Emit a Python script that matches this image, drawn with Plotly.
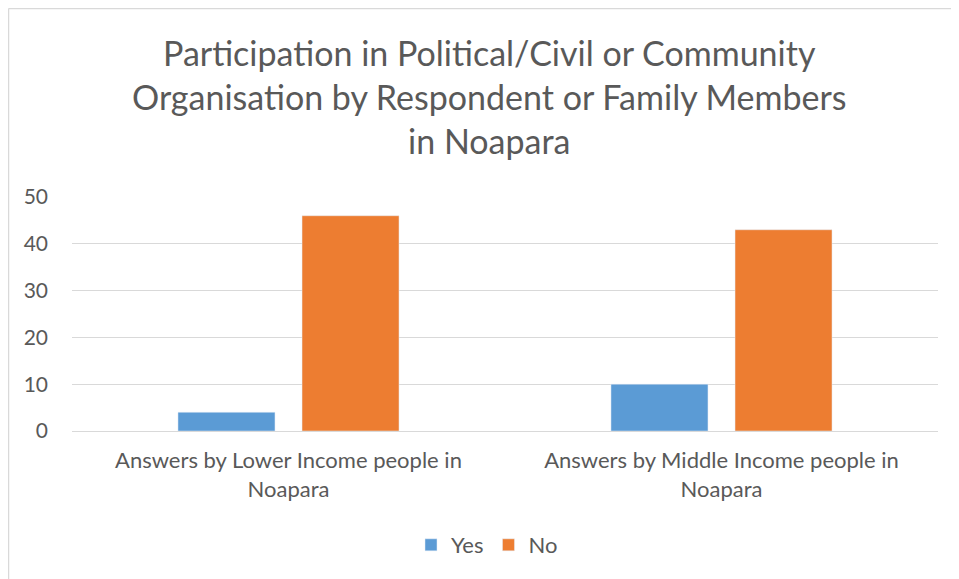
import plotly.graph_objects as go

categories = [
    "Answers by Lower Income people in<br>Noapara",
    "Answers by Middle Income people in<br>Noapara",
]
yes_values = [4, 10]
no_values = [46, 43]
y_ticks = [0, 10, 20, 30, 40, 50]

title_text = (
    "Participation in Political/Civil or Community<br>"
    "Organisation by Respondent or Family Members<br>"
    "in Noapara"
)

font_name = "Lato"
grey = "#595959"
grid = "#D9D9D9"

# plot area in page pixels (the page body adds an 8px offset)
plot_w = 959 - 64 - 29
plot_h = 579 - 189 - 156

fig = go.Figure()
fig.add_trace(go.Bar(x=categories, y=yes_values, name="Yes", marker_color="#5B9BD5"))
fig.add_trace(go.Bar(x=categories, y=no_values, name="No", marker_color="#ED7D31"))

fig.add_annotation(
    text=title_text,
    xref="paper",
    yref="paper",
    x=(489 - 72) / plot_w,
    y=1 + (197 - 96) / plot_h,
    xanchor="center",
    yanchor="middle",
    showarrow=False,
    font=dict(size=34, color=grey, family=font_name),
)

fig.update_layout(
    width=959,
    height=579,
    paper_bgcolor="white",
    plot_bgcolor="white",
    font=dict(family=font_name, color=grey, size=21),
    barmode="group",
    bargap=0.427,
    bargroupgap=0.218,
    margin=dict(l=64, r=29, t=189, b=156),
    legend=dict(
        orientation="h",
        x=(487 - 72) / plot_w,
        xanchor="center",
        y=-(545 - 431) / plot_h,
        yanchor="middle",
        font=dict(size=22),
        itemwidth=30,
    ),
    shapes=[
        dict(type="line", xref="paper", yref="paper",
             x0=-63.5 / plot_w, x1=1.2, y0=1 + 188.5 / plot_h, y1=1 + 188.5 / plot_h,
             line=dict(color=grid, width=1.5)),
        dict(type="line", xref="paper", yref="paper",
             x0=-63.5 / plot_w, x1=-63.5 / plot_w, y0=-1, y1=1 + 188.5 / plot_h,
             line=dict(color=grid, width=1.5)),
    ],
)
fig.update_xaxes(showgrid=False, showline=False, ticks="",
                 ticklabelstandoff=14, tickfont=dict(size=22))
fig.update_yaxes(
    range=[0, 50],
    tickvals=y_ticks,
    gridcolor=grid,
    gridwidth=1,
    zeroline=True,
    zerolinecolor=grid,
    zerolinewidth=1,
    ticklabelstandoff=23,
)

fig.write_html("out.html")
